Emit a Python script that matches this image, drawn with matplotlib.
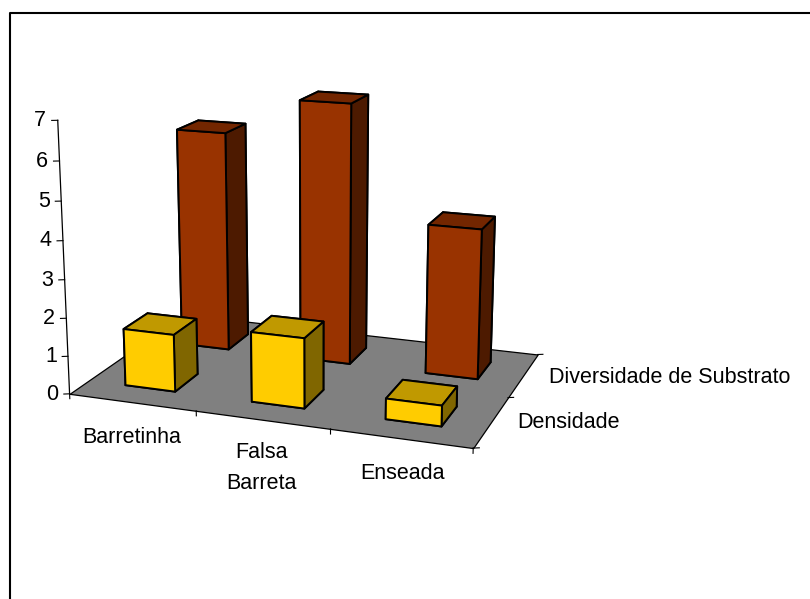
import matplotlib
matplotlib.use("Agg")
import matplotlib.pyplot as plt
from matplotlib.lines import Line2D
from mpl_toolkits.mplot3d.art3d import Poly3DCollection

plt.rcParams['font.family'] = ['Liberation Sans', 'DejaVu Sans']

categories = ['Barretinha', 'Falsa\nBarreta', 'Enseada']
series_names = ['Densidade', 'Diversidade de Substrato']
densidade = [1.51, 1.82, 0.53]
diversidade = [6, 7, 4]
z_ticks = [0, 1, 2, 3, 4, 5, 6, 7]

# front, top, side colour for each series
yellow = ['#FFCC00', '#C09900', '#806600']
red = ['#993300', '#732600', '#4D1A00']

W, H = 810, 599
bar_size = 0.4
font = 15.5

fig = plt.figure(figsize=(W / 100, H / 100), dpi=100)
ax = fig.add_axes([0.03795, 0.12363, 0.67509, 0.91289], projection='3d')
ax.computed_zorder = False
ax.set_proj_type('persp', focal_length=0.5411)
ax.view_init(15.22, -70.01, 0.06)
ax.set_box_aspect((1, 0.6664, 0.6694))
ax.set_axis_off()

floor = [[(0, 0, 0), (3, 0, 0), (3, 2, 0), (0, 2, 0)]]
ax.add_collection3d(Poly3DCollection(floor, facecolor='#808080', edgecolor='k', linewidth=0.9, zorder=1))


def draw_bars(values, row, colors, order):
    front, top, side = colors
    for i, v in enumerate(values):
        ax.bar3d(i + 0.5 - bar_size / 2, row + 0.5 - bar_size / 2, 0, bar_size, bar_size, v,
                 color=[top, top, front, front, side, side], shade=False,
                 edgecolor='k', linewidth=1.4, zorder=order)


draw_bars(diversidade, 1, red, 3)
draw_bars(densidade, 0, yellow, 4)

# ticks, moved along the floor so they come out level on screen
dx, dy = 0.037, 0.018
ax.plot([0, 0], [0, 0], [0, z_ticks[-1]], color='k', lw=0.9, zorder=2)
for z in z_ticks:
    ax.plot([0, -dx], [0, -dy], [z, z], color='k', lw=0.8, zorder=2)
    ax.text(-dx * 1.9, -dy * 1.9, z, str(z), fontsize=font, ha='right', va='center', color='k')
for x in range(len(categories) + 1):
    ax.plot([x, x], [0, 0], [0, -0.13], color='k', lw=0.8, zorder=2)
for y in range(len(series_names) + 1):
    ax.plot([3, 3 + dx], [y, y + dy], [0, 0], color='k', lw=0.8, zorder=2)

ax.set_xlim(0, 3)
ax.set_ylim(0, 2)
ax.set_zlim(0, 7)

# labels, pixel positions (x, baseline)
cat_pos = [(132, 442.7), (261.7, 489.3), (402, 479)]
for name, (px, py) in zip(categories, cat_pos):
    fig.text(px / W, 1 - py / H, name, fontsize=font, ha='center', va='baseline',
             multialignment='center', linespacing=1.65)
ser_pos = [(517, 428), (549, 382.7)]
for name, (px, py) in zip(series_names, ser_pos):
    fig.text(px / W, 1 - py / H, name, fontsize=font, ha='left', va='baseline')

# chart border, only top and left are in the picture
fig.add_artist(Line2D([10 / W, 10 / W, 1], [0, 1 - 13 / H, 1 - 13 / H], color='k', lw=1.5))

fig.savefig('out.png', dpi=100)
